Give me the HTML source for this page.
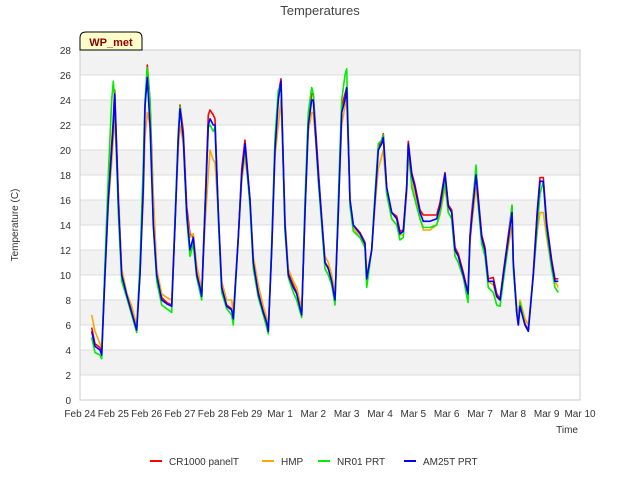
<!DOCTYPE html>
<html><head><meta charset="utf-8"><style>
body{margin:0;background:#fff;font-family:"Liberation Sans",sans-serif}
svg text{font-family:"Liberation Sans",sans-serif}
</style></head><body>
<svg id="chart" width="640" height="480" xmlns="http://www.w3.org/2000/svg">
<rect width="640" height="480" fill="#fff"/>
<text x="320" y="15" text-anchor="middle" font-size="13" fill="#444">Temperatures</text>
<g id="bands"></g>
<g id="grid"></g>
<rect x="80" y="50" width="500" height="350" fill="none" stroke="#ccc"/>
<g id="yticks"></g><g id="xticks"></g>
<text transform="translate(18,225) rotate(-90)" text-anchor="middle" font-size="10" fill="#333">Temperature (C)</text>
<text x="578" y="433" text-anchor="end" font-size="10" fill="#333">Time</text>
<g id="series"></g>
<g>
<path d="M80,50 L80,38 Q80,32 86,32 L136,32 Q142,32 142,38 L142,50 Z" fill="#ffffcc" stroke="#000"/>
<text x="111" y="46" text-anchor="middle" font-size="11" font-weight="bold" fill="#8b0000">WP_met</text>
</g>
<g id="legend"></g>
</svg>
<script>
const times=[0.35,0.45,0.6,0.65,0.75,0.85,0.95,1.0,1.04,1.15,1.25,1.4,1.55,1.7,1.8,1.9,1.95,2.02,2.1,2.2,2.3,2.45,2.6,2.75,2.85,2.95,3.0,3.1,3.2,3.3,3.4,3.5,3.6,3.65,3.75,3.85,3.9,4.0,4.05,4.15,4.25,4.4,4.55,4.6,4.75,4.85,4.95,5.1,5.2,5.35,5.5,5.6,5.65,5.75,5.85,5.95,6.03,6.15,6.25,6.4,6.5,6.65,6.75,6.85,6.95,7.0,7.15,7.25,7.35,7.45,7.55,7.65,7.75,7.85,7.95,8.0,8.1,8.2,8.4,8.55,8.6,8.75,8.85,8.95,9.05,9.1,9.2,9.35,9.5,9.6,9.7,9.8,9.85,9.95,10.05,10.2,10.3,10.5,10.7,10.8,10.95,11.05,11.15,11.25,11.35,11.5,11.64,11.7,11.75,11.88,11.95,12.05,12.15,12.25,12.4,12.5,12.6,12.7,12.8,12.96,13.0,13.1,13.15,13.2,13.3,13.35,13.45,13.6,13.72,13.8,13.9,14.0,14.15,14.25,14.35];
const cr1000=[5.8,4.5,4.2,3.8,10.5,16.5,20.5,22.5,24.8,16.5,10.2,8.5,7.2,5.8,10.2,17,23.5,26.8,24,16,10.2,8.2,7.8,7.6,14,21,23.6,21.5,15.5,13.3,13,10.2,9,8.4,15.5,22.8,23.2,22.8,22.5,15,9,7.6,7.3,6.6,13,18.5,20.8,16,11,8.6,7.1,6.3,5.6,12,20.5,24.5,25.7,14,10.2,9.2,8.6,7,15,22.5,24.5,24.5,18.5,14.6,11,10.6,9.6,8.1,15,23.5,24.5,25,16,14,13.4,12.6,9.8,12,16,20.2,20.8,21.3,17,15,14.7,13.5,13.6,17.2,20.7,18.2,17.2,15.2,14.8,14.8,14.8,15.8,18.2,15.6,15.2,12.2,11.7,10.2,8.6,13.2,15,18.5,16.2,13.2,12.2,9.7,9.8,8.5,8.1,10.2,12.2,15.5,11,7,6.1,7.6,6.6,6.1,5.6,10.2,15.2,17.8,17.8,14.2,11.2,9.7,9.7];
const hmp=[6.8,5.5,4.5,4.2,10,15.5,19,21,22.5,16.5,10.5,8.6,7.5,6,10.5,16,21,23,22,16.5,10.5,8.5,8.2,8,14.5,20,22,20.5,15,13,13.3,10.8,9.5,8.6,14,18,20,19.2,19,15,9.5,8,8,7,13,17.5,19.5,16,11.5,9.2,7.5,6.6,6,12,19.5,22,24,14.5,10.5,9.5,9,7.3,15,21.5,23,23,18,14.5,11.5,11,10,8.5,15,22,23.5,24,16,13.8,13,12.3,10,12,15.5,18.5,19.5,20,16.5,14.5,14,13.2,13.2,16.5,19.5,17.5,16.5,14.5,13.6,13.6,14,14.8,17,15,14.5,11.5,11,9.8,8.6,12.5,14,17,15.5,12.8,12,9.5,9.2,8.2,8,10,11.5,14,11,7.5,6.8,8,7,6.5,6,10,13.5,15,15,13,10.5,9.5,9];
const nr01=[5.0,3.8,3.6,3.3,11,18,24,25.5,24,15,9.5,8.2,6.8,5.4,11,19,24,26.6,24,14,9.5,7.6,7.3,7.0,14.5,21.5,23.5,21,14.5,11.5,12.5,9.8,8.6,8.0,15.5,21.8,22,21.5,21.8,14.5,8.6,7.3,6.8,6.0,13,18,20.2,15.5,10.5,8.2,6.8,5.8,5.3,12.5,21,24.8,25.2,13.5,9.8,8.6,8,6.6,16,23,25,24.5,17.5,14,10.5,10,9.2,7.6,16,24,26,26.5,15.5,13.5,13,12.2,9,12,16.5,20.5,20.8,21.2,16.5,14.5,14,12.8,13,17,20.5,17,16,14.5,13.8,13.8,14,15,17.5,15,14.5,11.5,11,9.8,7.8,13,14.5,18.8,15.5,12.5,11.5,9,8.6,7.6,7.5,9.5,11.5,15.6,10.5,7,6,7.8,6.6,6,5.5,10,14,16.5,17.5,13.5,10.5,9,8.6];
const am25t=[5.5,4.3,4.0,3.6,10,16,20,22,24.5,16,10,8.4,7,5.6,10,17,23.5,25.8,22,14,10,8,7.7,7.5,14,21,23.3,21,15,12,13,10,9,8.3,15,22,22.5,22,22,15,9,7.5,7.2,6.5,13,18,20.5,16,11,8.5,7,6.2,5.5,12,20,24,25.5,14,10,9,8.5,6.8,15,22,24,24,18,14.5,11,10.5,9.5,8,15,23,24,25,16,14,13.3,12.5,9.7,12,16,20,20.5,21,17,15,14.5,13.3,13.5,17,20.5,18,17,15,14.3,14.3,14.5,15.5,18.1,15.5,15,12,11.5,10,8.5,13,14.5,18,16,13,12,9.5,9.5,8.3,8,10,12,15,11,7,6,7.5,6.5,6,5.5,10,15,17.5,17.5,14,11,9.5,9.5];
const yTicks=[0,2,4,6,8,10,12,14,16,18,20,22,24,26,28];
const xTickLabels=["Feb 24","Feb 25","Feb 26","Feb 27","Feb 28","Feb 29","Mar 1","Mar 2","Mar 3","Mar 4","Mar 5","Mar 6","Mar 7","Mar 8","Mar 9","Mar 10"];
const seriesNames=["CR1000 panelT","HMP","NR01 PRT","AM25T PRT"];
const seriesColors=["#ff0000","#ffa500","#00ee00","#0000ff"];
const seriesData=[cr1000,hmp,nr01,am25t];

const NS="http://www.w3.org/2000/svg";
const X0=80,X1=580,Y0=400,Y1=50;
const xs=t=>X0+(X1-X0)*t/15;
const ys=v=>Y0-(Y0-Y1)*v/28;
function mk(tag,attrs,parent){const e=document.createElementNS(NS,tag);for(const k in attrs)e.setAttribute(k,attrs[k]);parent.appendChild(e);return e;}
const bands=document.getElementById('bands'),grid=document.getElementById('grid'),yt=document.getElementById('yticks'),xt=document.getElementById('xticks');
for(let i=0;i<yTicks.length-1;i++){
  if(i%2===1){const r=mk('rect',{x:X0,y:ys(yTicks[i+1]),width:X1-X0,height:ys(yTicks[i])-ys(yTicks[i+1]),fill:'#f2f2f2'},bands);
  
  }
}
yTicks.forEach(v=>{
  const l=mk('line',{x1:X0,x2:X1,y1:ys(v),y2:ys(v),stroke:'#dcdcdc'},grid);
  
  
  const t=mk('text',{x:X0-9,y:ys(v)+4,'text-anchor':'end','font-size':10,fill:'#333'},yt);
  t.textContent=v;
  
  
});
xTickLabels.forEach((s,i)=>{
  const t=mk('text',{x:xs(i),y:417,'text-anchor':'middle','font-size':10,fill:'#333'},xt);
  t.textContent=s;
  
  
});
const sg=document.getElementById('series');
seriesData.forEach((d,si)=>{
  const pts=times.map((t,i)=>xs(t).toFixed(1)+','+ys(d[i]).toFixed(1)).join(' ');
  const p=mk('polyline',{points:pts,fill:'none',stroke:seriesColors[si],'stroke-width':1.6,'stroke-linejoin':'round'},sg);
  
  
});
const lg=document.getElementById('legend');
const lx=[150,262,318,404];
seriesNames.forEach((n,i)=>{
  const g=mk('g',{},lg);
  
  
  mk('line',{x1:lx[i],x2:lx[i]+12,y1:461,y2:461,stroke:seriesColors[i],'stroke-width':2},g);
  const t=mk('text',{x:lx[i]+19,y:465,'font-size':10,fill:'#333'},g);
  t.textContent=n;
});
</script>
</body></html>
